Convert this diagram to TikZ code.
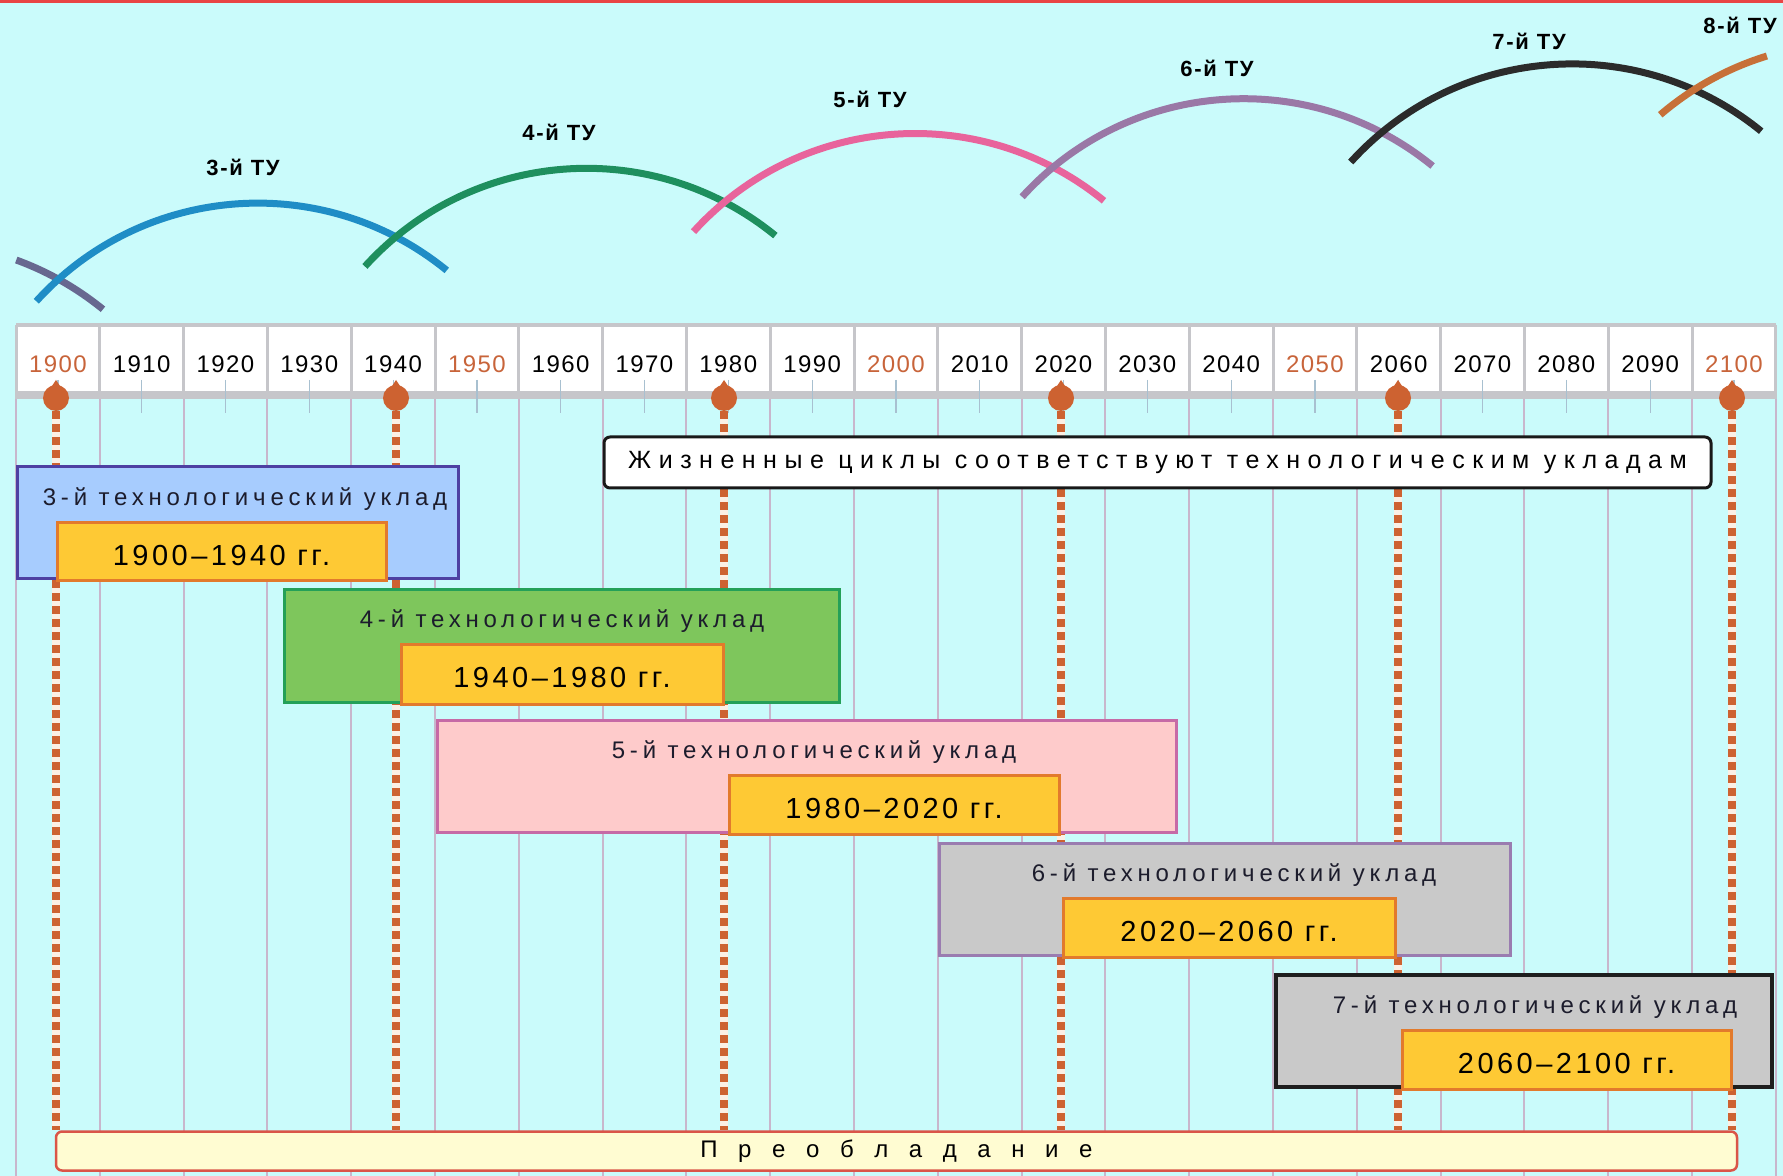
\documentclass[tikz,border=0pt]{standalone}
\usepackage{fontspec}
\setmainfont{Liberation Sans}
\newfontfamily\yearfont[LetterSpace=6]{Liberation Sans}
\newfontfamily\tufont[LetterSpace=8]{Liberation Sans}
\newfontfamily\titlefont[LetterSpace=20]{Liberation Sans}
\newfontfamily\notefont[LetterSpace=30]{Liberation Sans}
\newfontfamily\rangefont[LetterSpace=12]{Liberation Sans}
\newfontfamily\barfont[LetterSpace=58]{Liberation Sans}
\definecolor{sky}{HTML}{CAFBFB}
\definecolor{gridc}{HTML}{C8B6CC}
\definecolor{stripc}{HTML}{C6C6CA}
\definecolor{tickc}{HTML}{A8C0D0}
\definecolor{dotc}{HTML}{CD6231}
\definecolor{gapc}{HTML}{FBEFE4}
\definecolor{yearo}{HTML}{C8643A}
\definecolor{topred}{HTML}{E84444}
\definecolor{arc2}{HTML}{676890}
\definecolor{arc3}{HTML}{1F8DC6}
\definecolor{arc4}{HTML}{1E8F5E}
\definecolor{arc5}{HTML}{E8649C}
\definecolor{arc6}{HTML}{9A78A6}
\definecolor{arc7}{HTML}{2B2B2B}
\definecolor{arc8}{HTML}{C77038}
\definecolor{box3}{HTML}{A7CCFE}
\definecolor{edge3}{HTML}{4E40A2}
\definecolor{box4}{HTML}{7EC65C}
\definecolor{edge4}{HTML}{24A058}
\definecolor{box5}{HTML}{FECBCB}
\definecolor{edge5}{HTML}{C66AA6}
\definecolor{box6}{HTML}{C9C9C9}
\definecolor{edge6}{HTML}{9A7CB0}
\definecolor{box7}{HTML}{C9C9C9}
\definecolor{edge7}{HTML}{1E1E1E}
\definecolor{rangec}{HTML}{FEC934}
\definecolor{rangeb}{HTML}{E27A2C}
\definecolor{barfill}{HTML}{FFFCD2}
\definecolor{baredge}{HTML}{DA5548}
\definecolor{titlec}{HTML}{1C1C2C}
\begin{document}
\begin{tikzpicture}[x=0.5pt,y=-0.5pt,
  gridline/.style={draw=gridc,line width=1pt},
  stripline/.style={draw=stripc,line width=1.5pt},
  tick/.style={draw=tickc,line width=0.6pt},
  yearlab/.style={font=\yearfont\fontsize{12}{14}\selectfont,inner sep=0},
  tyarc/.style={line width=3.5pt},
  tylab/.style={font=\tufont\bfseries\fontsize{11}{13}\selectfont,inner sep=0},
  dot/.style={circle,fill=dotc,inner sep=0,minimum size=13pt},
  dashline/.style={draw=dotc,line width=4pt,dash pattern=on 4pt off 2.5pt},
  gapline/.style={draw=gapc,line width=4pt},
  rangebox/.style={fill=rangec,draw=rangeb,line width=1.5pt},
  boxtitle/.style={font=\titlefont\fontsize{12}{14}\selectfont,text=titlec,inner sep=0,anchor=base},
  rangetext/.style={font=\rangefont\fontsize{14.5}{16}\selectfont,inner sep=0,anchor=base},
  notebox/.style={draw=black!90,fill=white,line width=1.5pt,rounded corners=3pt,minimum width=553.5pt,minimum height=25.5pt,font=\notefont\fontsize{12.5}{14}\selectfont},
  barbox/.style={draw=baredge,fill=barfill,line width=1.25pt,rounded corners=3pt,minimum width=840.5pt,minimum height=19.5pt,font=\barfont\fontsize{12}{14}\selectfont},
]
\useasboundingbox (0,0) rectangle (1783,1176);
\fill[sky] (0,0) rectangle (1783,1176);
\fill[topred] (0,0) rectangle (1783,3);
\foreach \i in {0,...,21}
  \draw[gridline] (16+83.8*\i,399) -- (16+83.8*\i,1176);
\fill[white] (16,325) rectangle (1776,391);
\fill[stripc] (16,391) rectangle (1776,399);
\draw[stripc,line width=2pt] (16,325) -- (1776,325);
\foreach \i in {0,...,21}
  \draw[stripline] (16+83.8*\i,325) -- (16+83.8*\i,399);
\foreach \i in {0,...,20}{
  \draw[tick] (57.9+83.8*\i,380) -- ++(0,33);
  \pgfmathtruncatemacro\yr{1900+10*\i}
  \pgfmathtruncatemacro\m{mod(\i,5)}
  \ifnum\m=0 \def\yc{yearo}\else\def\yc{black}\fi
  \node[yearlab,text=\yc] (y\yr) at (57.9+83.8*\i,364) {\yr};
}
\node[barbox] (bar) at (896.5,1151) {П р е о б л а д а н и е};
\foreach \x/\y in {56/1900,396/1940,724/1980,1061/2020,1398/2060,1732/2100}{
  \node[dot] (d\y) at (\x,398) {};
  \fill[dotc] (\x-6,389) -- (\x,380) -- (\x+6,389) -- cycle;
  \draw[gapline] (d\y) -- (d\y |- bar.north);
  \draw[dashline] (d\y) -- (d\y |- bar.north);
}
\foreach \xa/\ya/\xb/\yb/\fc/\dc/\lw/\tx/\n/\ra/\rb/\rng in {
  17/467/458/578/box3/edge3/1.5/245/3/57/386/1900–1940,
  284/589/839/702/box4/edge4/1.5/562/4/401/723/1940–1980,
  437/720/1176/832/box5/edge5/1.5/814/5/729/1059/1980–2020,
  939/843/1510/955/box6/edge6/1.5/1234/6/1063/1395/2020–2060,
  1276/975/1772/1087/box7/edge7/2/1535/7/1402/1731/2060–2100}{
  \filldraw[fill=\fc,draw=\dc,line width=\lw pt] (\xa,\ya) rectangle (\xb,\yb);
  \node[boxtitle] (t\n) at (\tx,\ya+38) {\n-й технологический уклад};
  \filldraw[rangebox] (\ra,\ya+55) rectangle (\rb,\yb+2);
  \node[rangetext] (r\n) at ({(\ra+\rb)/2},\ya+98) {\rng\ гг.};
}
\node[notebox] (note) at (1157.5,462.5) {Жизненные циклы соответствуют технологическим укладам};
\draw[tyarc,arc2] (-86,541) ++(290:299) arc[start angle=290,end angle=309.2,radius=299];
\foreach \cx/\cy/\col/\n/\lx/\ly in {
  257.8/502.1/arc3/3/243/167,
  586.4/467.3/arc4/4/559/132,
  915/432.5/arc5/5/870/99,
  1243.6/397.7/arc6/6/1217/68,
  1572.2/362.9/arc7/7/1529/41}{
  \draw[tyarc,\col] (\cx,\cy) ++(222.2:299) arc[start angle=222.2,end angle=309.2,radius=299];
  \node[tylab] (l\n) at (\lx,\ly) {\n-й ТУ};
}
\draw[tyarc,arc8] (1854.8,341.8) ++(229.4:299) arc[start angle=229.4,end angle=252.9,radius=299];
\node[tylab] (l8) at (1740,25) {8-й ТУ};
\end{tikzpicture}
\end{document}
